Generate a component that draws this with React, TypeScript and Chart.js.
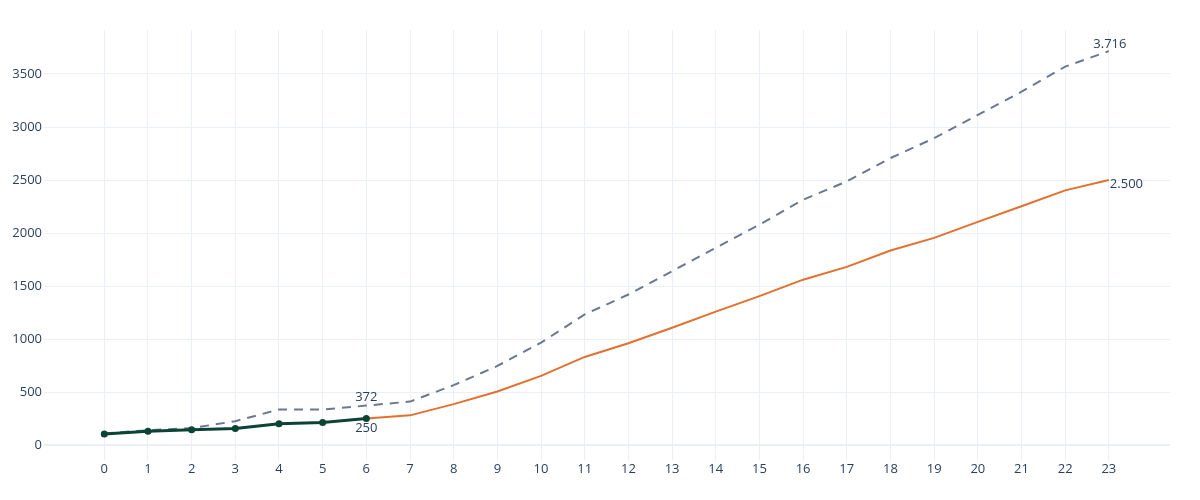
import React, { useEffect, useRef } from "react";
import { Chart, registerables } from "chart.js";

Chart.register(...registerables);

const days = [0, 1, 2, 3, 4, 5, 6, 7, 8, 9, 10, 11, 12, 13, 14, 15, 16, 17, 18, 19, 20, 21, 22, 23];
const projected = [110, 140, 160, 225, 335, 335, 372, 410, 565, 746, 966, 1232, 1420, 1640, 1860, 2079, 2314, 2487, 2707, 2895, 3114, 3333, 3569, 3716];
const forecastDays = [6, 7, 8, 9, 10, 11, 12, 13, 14, 15, 16, 17, 18, 19, 20, 21, 22, 23];
const forecast = [250, 280, 386, 505, 652, 831, 960, 1107, 1258, 1405, 1560, 1681, 1835, 1954, 2105, 2252, 2402, 2500];
const actualDays = [0, 1, 2, 3, 4, 5, 6];
const actual = [104, 130, 145, 157, 200, 212, 250];
const yTicks = [0, 500, 1000, 1500, 2000, 2500, 3000, 3500];

const TEXT = "#2a3f5f";
const GRID = "#ebf0f8";
const GRAY = "#6b7890";
const ORANGE = "#e2702f";
const GREEN = "#0b4434";
const FONT = '"Open Sans", sans-serif';

const fmt = (v: number) => v.toLocaleString("de-DE");

const labelPlugin = {
  id: "valueLabels",
  afterDatasetsDraw(chart: any) {
    const { ctx, scales } = chart;
    const xs = scales.x;
    const ys = scales.y;
    ctx.save();
    ctx.fillStyle = TEXT;
    ctx.font = `13px ${FONT}`;
    ctx.textBaseline = "middle";
    const put = (x: number, y: number, txt: string, align: CanvasTextAlign, dx: number, dy: number) => {
      ctx.textAlign = align;
      ctx.fillText(txt, xs.getPixelForValue(x) + dx, ys.getPixelForValue(y) + dy);
    };
    const i6 = days.indexOf(6);
    put(6, projected[i6], fmt(projected[i6]), "center", 0, -8);
    put(6, actual[actual.length - 1], fmt(actual[actual.length - 1]), "center", 0, 10);
    put(23, projected[projected.length - 1], fmt(projected[projected.length - 1]), "center", 1, -7);
    put(23, forecast[forecast.length - 1], fmt(forecast[forecast.length - 1]), "left", 1, 4);
    ctx.restore();
  },
};

export default function App() {
  const ref = useRef<HTMLCanvasElement>(null);
  useEffect(() => {
    document.body.style.margin = "0";
    Chart.defaults.font.family = FONT;
    Chart.defaults.font.size = 13;
    Chart.defaults.color = TEXT;
    const chart = new Chart(ref.current!, {
      type: "line",
      data: {
        datasets: [
          {
            label: "actual",
            data: actualDays.map((d, i) => ({ x: d, y: actual[i] })),
            borderColor: GREEN,
            backgroundColor: GREEN,
            borderWidth: 3,
            pointRadius: 3.5,
            pointBorderWidth: 0,
            order: 1,
          },
          {
            label: "forecast",
            data: forecastDays.map((d, i) => ({ x: d, y: forecast[i] })),
            borderColor: ORANGE,
            borderWidth: 2,
            pointRadius: 0,
            order: 2,
          },
          {
            label: "projected",
            data: days.map((d, i) => ({ x: d, y: projected[i] })),
            borderColor: GRAY,
            borderWidth: 2,
            borderDash: [9, 7],
            pointRadius: 0,
            order: 3,
          },
        ],
      },
      options: {
        responsive: false,
        animation: false,
        layout: { padding: { left: 0, right: 30, top: 30, bottom: 0 } },
        plugins: { legend: { display: false }, tooltip: { enabled: false } },
        scales: {
          x: {
            type: "linear",
            min: -1.38,
            max: 24.4,
            afterBuildTicks: (s: any) => {
              s.ticks = days.map((v) => ({ value: v }));
            },
            afterFit: (s: any) => {
              s.height = 40;
            },
            ticks: { padding: 1, color: TEXT, font: { size: 13 }, callback: (v: any) => String(v) },
            grid: { color: GRID, lineWidth: 1, drawTicks: false },
            border: { display: false },
          },
          y: {
            type: "linear",
            min: -141,
            max: 3915,
            afterBuildTicks: (s: any) => {
              s.ticks = yTicks.map((v) => ({ value: v }));
            },
            afterFit: (s: any) => {
              s.width = 44;
            },
            ticks: { padding: 2, color: TEXT, font: { size: 13 }, callback: (v: any) => String(v) },
            grid: {
              color: GRID,
              lineWidth: (c: any) => (c.tick && c.tick.value === 0 ? 2 : 1),
              drawTicks: false,
            },
            border: { display: false },
          },
        },
      },
      plugins: [labelPlugin],
    });
    return () => chart.destroy();
  }, []);
  return (
    <div style={{ width: 1200, height: 500, background: "#fff" }}>
      <canvas ref={ref} width={1200} height={500} style={{ width: 1200, height: 500, display: "block" }} />
    </div>
  );
}
